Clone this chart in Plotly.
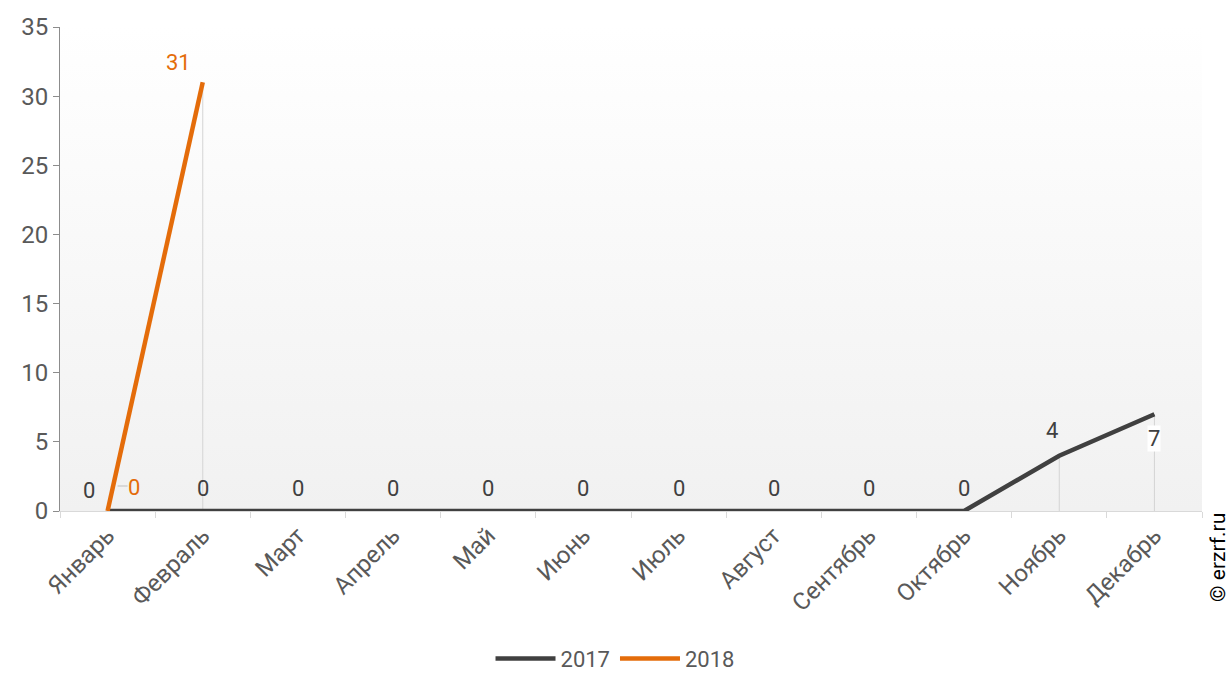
import base64
import plotly.graph_objects as go

months = ["Январь", "Февраль", "Март", "Апрель", "Май", "Июнь", "Июль",
          "Август", "Сентябрь", "Октябрь", "Ноябрь", "Декабрь"]
series_names = ["2017", "2018"]
values_2017 = [0, 0, 0, 0, 0, 0, 0, 0, 0, 0, 4, 7]
values_2018 = [0, 31, None, None, None, None, None, None, None, None, None, None]
y_ticks = [0, 5, 10, 15, 20, 25, 30, 35]

C2017 = "#404040"
C2018 = "#e46c0a"
FONT = "Roboto"

fig = go.Figure()

# drop lines
dx, dy = [], []
for vals in (values_2017, values_2018):
    for m, v in zip(months, vals):
        if v:
            dx += [m, m, None]
            dy += [v, 0, None]
fig.add_trace(go.Scatter(x=dx, y=dy, mode="lines", line=dict(color="#d4d4d4", width=1),
                         showlegend=False, hoverinfo="skip"))

fig.add_trace(go.Scatter(x=months, y=values_2017, mode="lines", name=series_names[0],
                         line=dict(color=C2017, width=4.5)))
fig.add_trace(go.Scatter(x=months, y=values_2018, mode="lines", name=series_names[1],
                         line=dict(color=C2018, width=4.5)))

annotations = []
# 2017 labels
for i, (m, v) in enumerate(zip(months, values_2017)):
    xs, ys, bg = 0, 23, None
    if i == 0:
        xs, ys = -19, 21
    elif i == 10:
        xs, ys = -7, 25
    elif i == 11:
        xs, ys, bg = 0, -24, "white"
    a = dict(x=m, y=v, text=str(v), showarrow=False, xshift=xs, yshift=ys,
             font=dict(family=FONT, size=22, color=C2017))
    if bg:
        a["bgcolor"] = bg
        a["borderpad"] = 0
    annotations.append(a)
# 2018 labels
for i, (m, v) in enumerate(zip(months, values_2018)):
    if v is None:
        continue
    if i == 0:
        xs, ys = 26, 24
    else:
        xs, ys = -24, 20
    annotations.append(dict(x=m, y=v, text=str(v), showarrow=False, xshift=xs, yshift=ys,
                            font=dict(family=FONT, size=22, color=C2018)))

annotations.append(dict(x=1.014, y=-0.095, xref="paper", yref="paper", text="© erzrf.ru",
                        textangle=-90, showarrow=False, xanchor="center", yanchor="middle",
                        font=dict(family=FONT, size=21, color="#000000")))

svg = ('<svg xmlns="http://www.w3.org/2000/svg" width="100" height="100" preserveAspectRatio="none">'
       '<defs><linearGradient id="g" x1="0" y1="0" x2="0" y2="1">'
       '<stop offset="0" stop-color="#ffffff"/><stop offset="1" stop-color="#f1f1f1"/>'
       '</linearGradient></defs><rect width="100" height="100" fill="url(#g)"/></svg>')
src = "data:image/svg+xml;base64," + base64.b64encode(svg.encode()).decode()

shapes = [dict(type="line", xref="x", yref="y", xsizemode="pixel", ysizemode="pixel",
               xanchor=months[0], yanchor=values_2018[0], x0=10, x1=20, y0=25, y1=25,
               line=dict(color="#bfbfbf", width=1))]

fig.update_layout(
    width=1230, height=673,
    margin=dict(l=60, r=28, t=27, b=162, autoexpand=False),
    paper_bgcolor="white", plot_bgcolor="rgba(0,0,0,0)",
    font=dict(family=FONT, size=20, color="#595959"),
    images=[dict(source=src, xref="paper", yref="paper", x=0, y=1, sizex=1, sizey=1,
                 sizing="stretch", layer="below", xanchor="left", yanchor="top")],
    annotations=annotations,
    shapes=shapes,
    showlegend=True,
    legend=dict(orientation="h", x=0.486, y=-0.305, xanchor="center", yanchor="middle",
                font=dict(family=FONT, size=22, color="#595959"), itemwidth=60,
                bgcolor="rgba(0,0,0,0)", tracegroupgap=0),
    xaxis=dict(type="category", categoryorder="array", categoryarray=months,
               range=[-0.5, 11.5], tickangle=-45, showgrid=False, zeroline=False,
               showline=True, linecolor="#d9d9d9", linewidth=1, automargin=False,
               ticks="outside", tickson="boundaries", ticklen=6, tickcolor="#d9d9d9",
               tickfont=dict(family=FONT, size=24, color="#595959")),
    yaxis=dict(range=[0, 35], tickvals=y_ticks, showgrid=False, zeroline=False,
               showline=True, linecolor="#8c8c8c", linewidth=1, automargin=False,
               ticks="outside", ticklen=6, tickcolor="#8c8c8c",
               tickfont=dict(family=FONT, size=24, color="#595959")),
)

fig.write_html("out.html", config={"displayModeBar": False},
               post_script="document.body.style.margin='0';document.body.style.overflow='hidden';")
